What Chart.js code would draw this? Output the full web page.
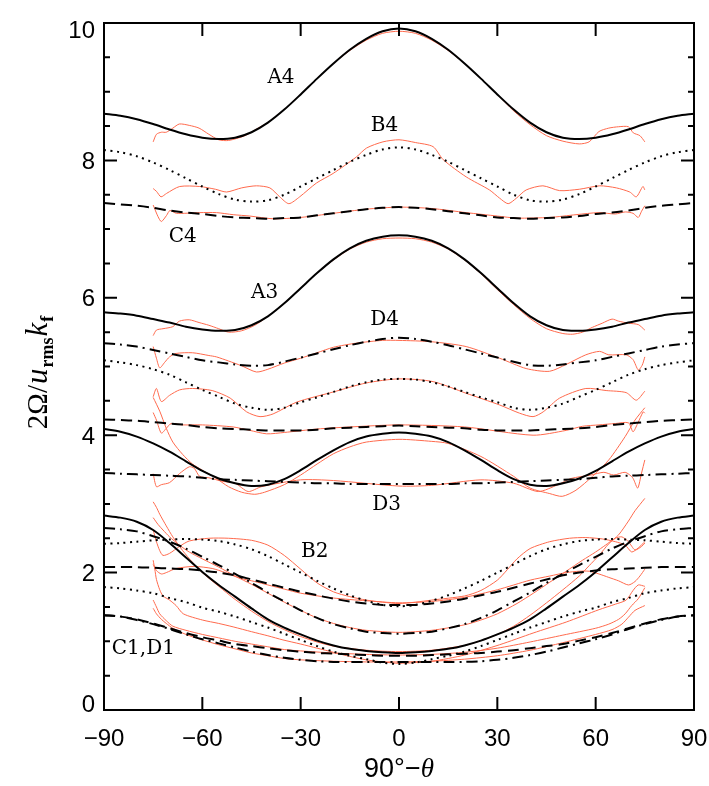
<!DOCTYPE html>
<html>
<head>
<meta charset="utf-8">
<script src="https://cdn.jsdelivr.net/npm/chart.js@4.4.1/dist/chart.umd.min.js"></script>
<style>
html, body { margin: 0; padding: 0; background: #fff; }
canvas { display: block; }
</style>
</head>
<body>
<canvas id="c" width="709" height="786"></canvas>
<script>
// latitude grid of the model curves (degrees)
const xs = [-90, -85, -80, -75, -70, -65, -60, -55, -50, -45, -40, -35, -30, -25, -20, -15, -10, -5, 0,
            5, 10, 15, 20, 25, 30, 35, 40, 45, 50, 55, 60, 65, 70, 75, 80, 85, 90];

// model curves (black)
const A4 = [8.68, 8.65, 8.60, 8.53, 8.45, 8.38, 8.33, 8.31, 8.33, 8.41, 8.55, 8.74, 8.96, 9.19, 9.41, 9.61, 9.77, 9.88, 9.92,
            9.88, 9.77, 9.61, 9.41, 9.19, 8.96, 8.74, 8.55, 8.41, 8.33, 8.31, 8.33, 8.38, 8.45, 8.53, 8.60, 8.65, 8.68];
const B4 = [8.15, 8.12, 8.06, 7.97, 7.86, 7.74, 7.62, 7.51, 7.43, 7.40, 7.42, 7.50, 7.62, 7.74, 7.86, 7.98, 8.08, 8.16, 8.19,
            8.16, 8.08, 7.98, 7.86, 7.74, 7.62, 7.50, 7.42, 7.40, 7.43, 7.51, 7.62, 7.74, 7.86, 7.97, 8.06, 8.12, 8.15];
const C4 = [7.38, 7.36, 7.34, 7.31, 7.27, 7.24, 7.22, 7.19, 7.17, 7.16, 7.15, 7.16, 7.17, 7.20, 7.23, 7.26, 7.29, 7.31, 7.32,
            7.31, 7.29, 7.26, 7.23, 7.20, 7.17, 7.16, 7.15, 7.16, 7.17, 7.19, 7.22, 7.24, 7.27, 7.31, 7.34, 7.36, 7.38];
const A3 = [5.79, 5.77, 5.74, 5.69, 5.64, 5.58, 5.54, 5.52, 5.53, 5.60, 5.73, 5.92, 6.14, 6.36, 6.56, 6.72, 6.83, 6.89, 6.91,
            6.89, 6.83, 6.72, 6.56, 6.36, 6.14, 5.92, 5.73, 5.60, 5.53, 5.52, 5.54, 5.58, 5.64, 5.69, 5.74, 5.77, 5.79];
const D4 = [5.34, 5.32, 5.29, 5.24, 5.19, 5.14, 5.09, 5.06, 5.03, 5.01, 5.02, 5.07, 5.13, 5.19, 5.25, 5.31, 5.36, 5.40, 5.42,
            5.40, 5.36, 5.31, 5.25, 5.19, 5.13, 5.07, 5.02, 5.01, 5.03, 5.06, 5.09, 5.14, 5.19, 5.24, 5.29, 5.32, 5.34];
const B3 = [5.09, 5.06, 5.02, 4.96, 4.88, 4.77, 4.66, 4.56, 4.46, 4.40, 4.37, 4.40, 4.48, 4.55, 4.63, 4.71, 4.77, 4.81, 4.82,
            4.81, 4.77, 4.71, 4.63, 4.55, 4.48, 4.40, 4.37, 4.40, 4.46, 4.56, 4.66, 4.77, 4.88, 4.96, 5.02, 5.06, 5.09];
const C3 = [4.23, 4.22, 4.21, 4.19, 4.17, 4.15, 4.12, 4.10, 4.09, 4.08, 4.07, 4.07, 4.07, 4.08, 4.10, 4.11, 4.12, 4.13, 4.14,
            4.13, 4.12, 4.11, 4.10, 4.08, 4.07, 4.07, 4.07, 4.08, 4.09, 4.10, 4.12, 4.15, 4.17, 4.19, 4.21, 4.22, 4.23];
const A2 = [4.09, 4.05, 3.98, 3.88, 3.76, 3.62, 3.48, 3.37, 3.30, 3.26, 3.28, 3.36, 3.49, 3.64, 3.78, 3.90, 3.98, 4.02, 4.04,
            4.02, 3.98, 3.90, 3.78, 3.64, 3.49, 3.36, 3.28, 3.26, 3.30, 3.37, 3.48, 3.62, 3.76, 3.88, 3.98, 4.05, 4.09];
const D3 = [3.45, 3.44, 3.43, 3.42, 3.41, 3.40, 3.38, 3.36, 3.35, 3.34, 3.33, 3.32, 3.31, 3.30, 3.30, 3.29, 3.29, 3.29, 3.29,
            3.29, 3.29, 3.29, 3.30, 3.30, 3.31, 3.32, 3.33, 3.34, 3.35, 3.36, 3.38, 3.40, 3.41, 3.42, 3.43, 3.44, 3.45];
const A1 = [2.83, 2.80, 2.74, 2.62, 2.43, 2.22, 2.01, 1.82, 1.65, 1.48, 1.32, 1.20, 1.10, 1.01, 0.94, 0.89, 0.86, 0.84, 0.83,
            0.84, 0.86, 0.89, 0.94, 1.01, 1.10, 1.20, 1.32, 1.48, 1.65, 1.82, 2.01, 2.22, 2.43, 2.62, 2.74, 2.80, 2.83];
const D2 = [2.65, 2.63, 2.60, 2.53, 2.45, 2.35, 2.23, 2.11, 1.98, 1.85, 1.71, 1.58, 1.45, 1.34, 1.25, 1.19, 1.14, 1.12, 1.11,
            1.12, 1.14, 1.19, 1.25, 1.34, 1.45, 1.58, 1.71, 1.85, 1.98, 2.11, 2.23, 2.35, 2.45, 2.53, 2.60, 2.63, 2.65];
const B2 = [2.42, 2.43, 2.45, 2.47, 2.48, 2.49, 2.48, 2.46, 2.41, 2.34, 2.24, 2.12, 2.00, 1.88, 1.77, 1.67, 1.59, 1.53, 1.51,
            1.53, 1.59, 1.67, 1.77, 1.88, 2.00, 2.12, 2.24, 2.34, 2.41, 2.46, 2.48, 2.49, 2.48, 2.47, 2.45, 2.43, 2.42];
const C2 = [2.08, 2.08, 2.08, 2.07, 2.06, 2.05, 2.03, 2.00, 1.96, 1.90, 1.84, 1.78, 1.72, 1.67, 1.62, 1.58, 1.55, 1.53, 1.53,
            1.53, 1.55, 1.58, 1.62, 1.67, 1.72, 1.78, 1.84, 1.90, 1.96, 2.00, 2.03, 2.05, 2.06, 2.07, 2.08, 2.08, 2.08];
const B1 = [1.79, 1.77, 1.74, 1.70, 1.63, 1.57, 1.49, 1.43, 1.36, 1.28, 1.20, 1.11, 1.02, 0.93, 0.85, 0.79, 0.74, 0.69, 0.67,
            0.69, 0.74, 0.79, 0.85, 0.93, 1.02, 1.11, 1.20, 1.28, 1.36, 1.43, 1.49, 1.57, 1.63, 1.70, 1.74, 1.77, 1.79];
const C1 = [1.38, 1.36, 1.32, 1.26, 1.19, 1.12, 1.06, 1.01, 0.96, 0.93, 0.90, 0.87, 0.85, 0.83, 0.82, 0.81, 0.80, 0.79, 0.79,
            0.79, 0.80, 0.81, 0.82, 0.83, 0.85, 0.87, 0.90, 0.93, 0.96, 1.01, 1.06, 1.12, 1.19, 1.26, 1.32, 1.36, 1.38];
const D1 = [1.38, 1.36, 1.31, 1.25, 1.18, 1.10, 1.03, 0.97, 0.91, 0.85, 0.80, 0.76, 0.73, 0.71, 0.70, 0.70, 0.70, 0.70, 0.70,
            0.70, 0.70, 0.70, 0.70, 0.71, 0.73, 0.76, 0.80, 0.85, 0.91, 0.97, 1.03, 1.10, 1.18, 1.25, 1.31, 1.36, 1.38];

// simulation curves (red), [latitude, value]
const redA4 = [[-75, 8.27], [-74, 8.38], [-72.5, 8.41], [-71, 8.41], [-69, 8.47], [-67, 8.53], [-64, 8.51], [-61, 8.47], [-58, 8.38],
  [-55, 8.30], [-52, 8.29], [-47, 8.36], [-43, 8.47], [-40, 8.55], [-35, 8.74], [-30, 8.96], [-25, 9.19], [-20, 9.41], [-15, 9.60],
  [-10, 9.75], [-5, 9.85], [0, 9.88], [5, 9.85], [10, 9.75], [15, 9.60], [20, 9.41], [25, 9.19], [30, 8.96], [35, 8.72], [40, 8.52],
  [45, 8.36], [50, 8.28], [55, 8.24], [58, 8.27], [61, 8.42], [64, 8.47], [67, 8.49], [70, 8.49], [71.5, 8.40], [73.5, 8.36], [75, 8.27]];
const redB4 = [[-75, 7.59], [-74, 7.55], [-72.6, 7.47], [-70.9, 7.52], [-66.9, 7.62], [-60.8, 7.62], [-56, 7.58], [-52.6, 7.54],
  [-48, 7.60], [-43.5, 7.63], [-39.4, 7.60], [-36.4, 7.47], [-33.6, 7.37], [-30.3, 7.47], [-25.2, 7.67], [-20.1, 7.81], [-13, 8.05],
  [-9.9, 8.18], [-4.9, 8.27], [0, 8.30], [5, 8.26], [10.4, 8.20], [13.5, 8.01], [20.5, 7.76], [27.6, 7.57], [30.7, 7.45], [33.3, 7.37],
  [35.8, 7.45], [38.8, 7.57], [43.9, 7.63], [49, 7.56], [55, 7.58], [61.2, 7.63], [66.3, 7.60], [70.4, 7.54], [72.4, 7.47],
  [74.4, 7.62], [75, 7.57]];
const redC4 = [[-75, 7.35], [-73.5, 7.18], [-72.5, 7.11], [-70.9, 7.20], [-69.9, 7.27], [-67.9, 7.23], [-60.8, 7.24], [-55.7, 7.24],
  [-50.6, 7.21], [-45.5, 7.19], [-38.4, 7.15], [-30, 7.17], [-20, 7.23], [-10, 7.29], [0, 7.32], [10, 7.30], [20.5, 7.24], [30, 7.19],
  [36, 7.16], [46, 7.17], [54, 7.21], [61, 7.24], [66, 7.22], [69, 7.25], [71.4, 7.23], [73, 7.17], [74, 7.26], [75, 7.34]];
const redA3 = [[-75, 5.45], [-74, 5.53], [-72, 5.55], [-69, 5.58], [-67, 5.66], [-64, 5.68], [-61, 5.64], [-58, 5.60], [-55, 5.55],
  [-52, 5.50], [-48, 5.52], [-44, 5.60], [-40, 5.73], [-35, 5.92], [-30, 6.14], [-25, 6.36], [-20, 6.55], [-15, 6.71], [-10, 6.81],
  [-5, 6.86], [0, 6.87], [5, 6.86], [10, 6.81], [15, 6.71], [20, 6.55], [25, 6.35], [30, 6.12], [35, 5.90], [40, 5.70], [45, 5.55],
  [50, 5.48], [53, 5.47], [56, 5.50], [59, 5.57], [62, 5.63], [65, 5.69], [67, 5.66], [70, 5.63], [73, 5.61], [75, 5.53]];
const redD4 = [[-75, 5.29], [-74, 5.12], [-73, 4.98], [-71.5, 5.06], [-70, 5.14], [-68, 5.19], [-63, 5.20], [-58, 5.16], [-55.7, 5.14],
  [-52, 5.08], [-48, 5.01], [-43.5, 4.92], [-40, 4.96], [-35, 5.05], [-30, 5.12], [-25, 5.20], [-20, 5.28], [-13, 5.34], [-5, 5.38],
  [0, 5.38], [10, 5.36], [20.5, 5.29], [30.7, 5.12], [38.8, 4.97], [45.9, 4.93], [51, 5.03], [57, 5.17], [61.2, 5.22], [64, 5.17],
  [69.3, 5.17], [71.4, 5.10], [73, 4.95], [74.2, 5.02], [75, 5.14]];
const redB3 = [[-75, 4.56], [-74, 4.68], [-72.5, 4.49], [-70, 4.58], [-66.9, 4.66], [-63, 4.68], [-57, 4.65], [-51.5, 4.54],
  [-46.5, 4.34], [-42.4, 4.27], [-38.4, 4.31], [-31.3, 4.48], [-20, 4.63], [-10, 4.76], [0, 4.82], [10.4, 4.78], [20.5, 4.61],
  [30.7, 4.44], [36.8, 4.32], [40.9, 4.27], [44, 4.34], [49, 4.54], [57, 4.68], [63.2, 4.65], [69.3, 4.62], [72.4, 4.51], [75, 4.64]];
const redC3 = [[-75, 4.33], [-74, 4.22], [-72.5, 4.03], [-71, 4.10], [-69.5, 4.17], [-66, 4.15], [-60, 4.15], [-50.6, 4.12],
  [-45.5, 4.07], [-40.4, 4.02], [-35, 4.04], [-25, 4.09], [-15, 4.12], [0, 4.15], [20, 4.12], [40.9, 4.00], [51, 4.07], [56, 4.13],
  [61, 4.15], [66, 4.17], [70, 4.18], [71.4, 4.05], [72.8, 4.17], [74.5, 4.34], [75, 4.32]];
const redA2 = [[-75, 4.55], [-73, 4.35], [-71, 4.10], [-69, 3.90], [-66, 3.72], [-63, 3.58], [-60, 3.49], [-56, 3.38], [-52, 3.25],
  [-48, 3.17], [-44, 3.14], [-41, 3.17], [-35, 3.28], [-30, 3.42], [-25, 3.58], [-20, 3.73], [-15, 3.83], [-10, 3.90], [0, 3.94],
  [10, 3.91], [15, 3.88], [25, 3.69], [35, 3.40], [40, 3.23], [46, 3.15], [49.8, 3.11], [54, 3.20], [59, 3.40], [64, 3.64],
  [69, 3.98], [72, 4.22], [75, 4.40]];
const redD3 = [[-75, 3.44], [-74, 3.25], [-72.5, 3.28], [-70, 3.31], [-67, 3.44], [-64, 3.54], [-62.5, 3.52], [-60.8, 3.40], [-58, 3.38],
  [-54, 3.33], [-50, 3.30], [-46, 3.18], [-42, 3.25], [-30, 3.35], [-20, 3.34], [0, 3.26], [10, 3.27], [25, 3.35], [35, 3.30],
  [42.5, 3.18], [48.5, 3.28], [52.5, 3.37], [58.5, 3.42], [62.5, 3.46], [65.5, 3.42], [69, 3.46], [71.3, 3.38], [72.8, 3.23],
  [74, 3.45], [75, 3.64]];
const redA1 = [[-75, 3.03], [-74, 2.95], [-73, 2.85], [-71, 2.68], [-69, 2.52], [-66, 2.32], [-63, 2.15], [-60, 2.00], [-55, 1.80],
  [-50, 1.61], [-45, 1.44], [-40, 1.29], [-35, 1.17], [-30, 1.07], [-25, 0.99], [-20, 0.93], [-10, 0.87], [0, 0.85], [10, 0.87],
  [20, 0.94], [25, 1.01], [30, 1.10], [35, 1.22], [40, 1.38], [45, 1.56], [50, 1.75], [55, 1.95], [58, 2.10], [61, 2.25], [64, 2.42],
  [67, 2.55], [70, 2.75], [72, 2.90], [75, 3.08]];
const redD2 = [[-75, 2.80], [-73.5, 2.70], [-72, 2.62], [-70, 2.52], [-67, 2.40], [-64, 2.30], [-60, 2.20], [-55, 2.08], [-50, 1.95],
  [-45, 1.83], [-40, 1.70], [-35, 1.57], [-30, 1.45], [-25, 1.34], [-20, 1.26], [-15, 1.20], [-10, 1.16], [0, 1.13], [10, 1.16],
  [20, 1.24], [25, 1.31], [30, 1.40], [36, 1.55], [41, 1.70], [46, 1.86], [51, 2.02], [56, 2.18], [60, 2.30], [63, 2.40], [66, 2.50],
  [68, 2.52], [70, 2.45], [72, 2.33], [74, 2.38], [75, 2.43]];
const redB2 = [[-75, 2.62], [-74, 2.45], [-73, 2.32], [-72, 2.25], [-70, 2.28], [-67, 2.38], [-64, 2.46], [-58, 2.50], [-52, 2.50],
  [-45, 2.47], [-40, 2.40], [-35, 2.25], [-30, 2.05], [-25, 1.85], [-20, 1.72], [-15, 1.65], [-10, 1.60], [-5, 1.57], [0, 1.55],
  [5, 1.57], [10, 1.60], [20, 1.66], [25, 1.74], [30, 1.89], [33, 2.04], [36, 2.20], [40, 2.35], [46, 2.45], [52, 2.50], [57, 2.51],
  [62, 2.49], [66, 2.45], [69, 2.40], [71, 2.30], [73, 2.36], [75, 2.45]];
const redC2 = [[-75, 2.12], [-74, 2.03], [-72.5, 1.98], [-71, 2.00], [-68, 2.06], [-62.5, 2.09], [-57, 2.06], [-53, 2.00], [-48.6, 1.92],
  [-44, 1.87], [-40, 1.82], [-35, 1.76], [-30, 1.70], [-20, 1.63], [-10, 1.59], [0, 1.56], [10, 1.58], [20, 1.64], [30, 1.75],
  [40, 1.89], [46, 1.95], [51, 2.00], [55, 2.02], [58, 2.02], [61, 1.98], [64, 1.93], [67, 1.88], [70, 1.82], [72, 1.87], [73.5, 1.95],
  [75, 2.05]];
const redB1 = [[-75, 2.18], [-74.5, 2.05], [-74, 1.90], [-73, 1.75], [-72, 1.66], [-70, 1.60], [-68, 1.52], [-65.8, 1.40], [-60, 1.31],
  [-55, 1.26], [-50.6, 1.21], [-45, 1.14], [-40, 1.08], [-35.4, 1.02], [-30, 0.96], [-25, 0.90], [-20, 0.84], [-15, 0.78], [-10, 0.73],
  [-5, 0.70], [0, 0.68], [10, 0.71], [20, 0.80], [30.7, 0.95], [40.9, 1.12], [51, 1.28], [61, 1.46], [66, 1.54], [69.3, 1.60],
  [71.4, 1.74], [73, 1.82], [75, 1.80]];
const redC1 = [[-75, 1.60], [-74, 1.50], [-73, 1.40], [-71, 1.30], [-69, 1.22], [-65, 1.16], [-60, 1.10], [-55, 1.05], [-50, 1.00],
  [-45, 0.96], [-40, 0.92], [-35, 0.88], [-30, 0.86], [-20, 0.83], [-10, 0.81], [0, 0.80], [10, 0.81], [20, 0.84], [30, 0.90],
  [40, 0.99], [50, 1.09], [60, 1.19], [64, 1.25], [67, 1.32], [69, 1.40], [71, 1.52], [73, 1.62], [75, 1.78]];
const redD1 = [[-75, 1.48], [-74, 1.40], [-72.5, 1.32], [-71, 1.26], [-69, 1.19], [-65, 1.10], [-60, 1.02], [-55, 0.95], [-50, 0.89],
  [-45, 0.83], [-40, 0.79], [-35, 0.75], [-30, 0.73], [-20, 0.71], [-10, 0.70], [0, 0.70], [10, 0.71], [20, 0.74], [30, 0.79],
  [40, 0.87], [50, 0.98], [60, 1.10], [65, 1.17], [68, 1.25], [70, 1.35], [72, 1.45], [75, 1.52]];

// axes
const xTicks = [-90, -60, -30, 0, 30, 60, 90];
const xTickLabels = ['\u221290', '\u221260', '\u221230', '0', '30', '60', '90'];
const yTicks = [0, 2, 4, 6, 8, 10];
const yMinor = [0.5, 1, 1.5, 2.5, 3, 3.5, 4.5, 5, 5.5, 6.5, 7, 7.5, 8.5, 9, 9.5];

// curve labels [text, latitude, value]
const curveLabels = [['A4', -36, 9.20], ['B4', -4.4, 8.50], ['C4', -66, 6.89], ['A3', -41, 6.08], ['D4', -4.4, 5.68],
  ['D3', -3.8, 2.98], ['B2', -25.7, 2.30], ['C1,D1', -78, 0.89]];

const RED = '#ff6a4d';
const dashes = { solid: [], dot: [2, 4.5], dash: [11, 6], dashdot: [11, 5, 2, 5] };

function model(vals, style) {
  return {
    data: xs.map((x, i) => ({ x: x, y: vals[i] })),
    borderColor: '#000',
    borderWidth: 2,
    borderDash: dashes[style],
    borderCapStyle: 'butt',
    pointRadius: 0,
    tension: 0.3,
    order: 0
  };
}

function sim(pts) {
  return {
    data: pts.map(p => ({ x: p[0], y: p[1] })),
    borderColor: RED,
    borderWidth: 1,
    pointRadius: 0,
    tension: 0.25,
    order: 1
  };
}

const datasets = [
  sim(redA4), sim(redB4), sim(redC4), sim(redA3), sim(redD4), sim(redB3), sim(redC3), sim(redA2),
  sim(redD3), sim(redA1), sim(redD2), sim(redB2), sim(redC2), sim(redB1), sim(redC1), sim(redD1),
  model(A4, 'solid'), model(B4, 'dot'), model(C4, 'dash'), model(A3, 'solid'), model(D4, 'dashdot'),
  model(B3, 'dot'), model(C3, 'dash'), model(A2, 'solid'), model(D3, 'dashdot'), model(A1, 'solid'),
  model(D2, 'dashdot'), model(B2, 'dot'), model(C2, 'dash'), model(B1, 'dot'), model(C1, 'dash'), model(D1, 'dashdot')
];

// frame, inward ticks, labels and titles
const framePlugin = {
  id: 'frame',
  afterDraw(chart) {
    const { ctx, chartArea: a } = chart;
    const sx = chart.scales.x, sy = chart.scales.y;
    ctx.save();
    ctx.strokeStyle = '#000';
    ctx.lineWidth = 2;
    ctx.strokeRect(a.left, a.top, a.right - a.left, a.bottom - a.top);
    ctx.beginPath();
    xTicks.forEach(v => {
      const px = sx.getPixelForValue(v);
      ctx.moveTo(px, a.bottom); ctx.lineTo(px, a.bottom - 13);
      ctx.moveTo(px, a.top); ctx.lineTo(px, a.top + 13);
    });
    yTicks.concat(yMinor).forEach(v => {
      const py = sy.getPixelForValue(v);
      const len = yTicks.includes(v) ? 13 : 6;
      ctx.moveTo(a.left, py); ctx.lineTo(a.left + len, py);
      ctx.moveTo(a.right, py); ctx.lineTo(a.right - len, py);
    });
    ctx.stroke();

    ctx.fillStyle = '#000';
    ctx.font = '24px "Liberation Sans"';
    ctx.textAlign = 'center';
    ctx.textBaseline = 'middle';
    xTicks.forEach((v, i) => ctx.fillText(xTickLabels[i], sx.getPixelForValue(v), a.bottom + 29));
    ctx.textAlign = 'right';
    yTicks.forEach((v, i) => {
      let py = sy.getPixelForValue(v) + 2;
      if (i === 0) py -= 7;
      if (i === yTicks.length - 1) py += 6;
      ctx.fillText(String(v), a.left - 9, py);
    });

    // curve labels
    ctx.font = '20px "DejaVu Serif"';
    ctx.textAlign = 'center';
    curveLabels.forEach(l => ctx.fillText(l[0], sx.getPixelForValue(l[1]), sy.getPixelForValue(l[2])));

    // x title: 90°−θ
    ctx.textAlign = 'left';
    ctx.textBaseline = 'alphabetic';
    const f1 = '27px "Liberation Sans"', f2 = 'italic 27px "Liberation Serif"';
    ctx.font = f1; const w1 = ctx.measureText('90\u00b0\u2212').width;
    ctx.font = f2; const w2 = ctx.measureText('\u03b8').width;
    let tx = (a.left + a.right) / 2 - (w1 + w2) / 2;
    ctx.font = f1; ctx.fillText('90\u00b0\u2212', tx, 777);
    ctx.font = f2; ctx.fillText('\u03b8', tx + w1, 777);

    // y title: 2Ω/u_rms k_f
    const parts = [
      ['2\u03a9/', '29px "Liberation Serif"', 0],
      ['u', 'italic 31px "Liberation Serif"', 0],
      ['rms', 'bold 18px "Liberation Serif"', 6],
      ['k', 'italic 31px "Liberation Serif"', 0],
      ['f', 'bold 18px "Liberation Serif"', 6]
    ];
    let total = 0;
    parts.forEach(p => { ctx.font = p[1]; p.push(ctx.measureText(p[0]).width + 1); total += p[3]; });
    ctx.translate(47, 372);
    ctx.rotate(-Math.PI / 2);
    let ox = -total / 2;
    parts.forEach(p => { ctx.font = p[1]; ctx.fillText(p[0], ox, p[2]); ox += p[3]; });
    ctx.restore();
  }
};

new Chart(document.getElementById('c'), {
  type: 'line',
  data: { datasets: datasets },
  options: {
    responsive: false,
    animation: false,
    events: [],
    layout: { padding: { left: 104, right: 15, top: 23, bottom: 76 } },
    plugins: { legend: { display: false }, tooltip: { enabled: false } },
    scales: {
      x: { type: 'linear', min: -90, max: 90, display: false },
      y: { type: 'linear', min: 0, max: 10, display: false }
    }
  },
  plugins: [framePlugin]
});
</script>
</body>
</html>
